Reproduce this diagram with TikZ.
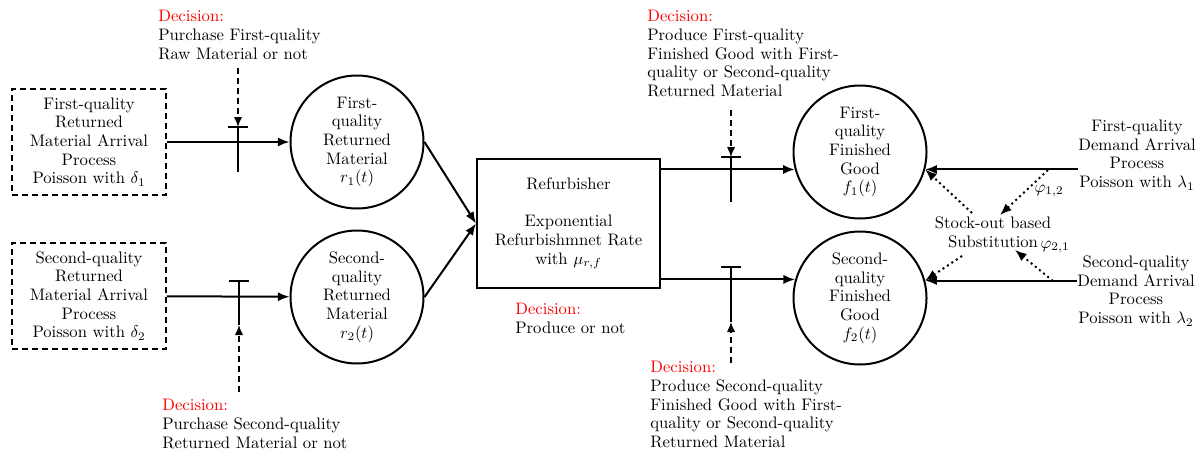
\documentclass[tikz,border=0pt]{standalone}
\usetikzlibrary{arrows.meta,calc}
\begin{document}
\begin{tikzpicture}[x=0.6pt,y=-0.6pt,
  font=\fontsize{10}{11.2}\selectfont,
  circ/.style={circle,draw,line width=1.2pt,minimum size=79.8pt,inner sep=0pt,align=center},
  srcbox/.style={draw,dash pattern=on 3.6pt off 2.4pt,line width=0.9pt,minimum width=92.4pt,minimum height=63.6pt,inner sep=0pt,align=center},
  refbox/.style={draw,line width=1.2pt,minimum width=109.8pt,minimum height=77.4pt,inner sep=0pt,align=center},
  plain/.style={align=center,inner sep=0pt},
  dectext/.style={align=left,anchor=north west,inner sep=0pt},
  flow/.style={line width=1.2pt,-{Latex[length=7pt,width=5.5pt]}},
  barline/.style={line width=1.2pt},
  decarrow/.style={dash pattern=on 3.5pt off 2.5pt,line width=0.9pt,-{Latex[length=6pt,width=5pt]}},
  subarrow/.style={dotted,line width=1.2pt,-{Latex[length=7pt,width=5.5pt]}}
]
\useasboundingbox (0,0) rectangle (1202,452);

% source boxes
\node[srcbox] (B1) at (89,142) {First-quality\\Returned\\Material Arrival\\Process\\Poisson with $\delta_1$};
\node[srcbox] (B2) at (89,296) {Second-quality\\Returned\\Material Arrival\\Process\\Poisson with $\delta_2$};

% raw material circles
\node[circ] (r1) at (357,142) {First-\\quality\\Returned\\Material\\$r_1(t)$};
\node[circ] (r2) at (357,297) {Second-\\quality\\Returned\\Material\\$r_2(t)$};

% refurbisher
\node[refbox] (R) at (568.5,223.5) {Refurbisher\\[11.2pt]Exponential\\Refurbishmnet Rate\\with $\mu_{r,f}$};

% finished goods
\node[circ] (f1) at (860,152) {First-\\quality\\Finished\\Good\\$f_1(t)$};
\node[circ] (f2) at (860,298) {Second-\\quality\\Finished\\Good\\$f_2(t)$};

% demand
\node[plain] (D1) at (1137,155) {First-quality\\Demand Arrival\\Process\\Poisson with $\lambda_1$};
\node[plain] (D2) at (1136,291) {Second-quality\\Demand Arrival\\Process\\Poisson with $\lambda_2$};

% substitution
\node[plain] (S) at (993,232) {Stock-out based\\Substitution};
\node[plain] (phi12) at (1049,191) {$\varphi_{1,2}$};
\node[plain] (phi21) at (1055,247) {$\varphi_{2,1}$};

% decision texts
\node[dectext] (dTL) at (158,10) {\textcolor{red}{Decision:}\\Purchase First-quality\\Raw Material or not};
\node[dectext] (dBL) at (162,399) {\textcolor{red}{Decision:}\\Purchase Second-quality\\Returned Material or not};
\node[dectext] (dM) at (515,303) {\textcolor{red}{Decision:}\\Produce or not};
\node[dectext] (dTR) at (647,10) {\textcolor{red}{Decision:}\\Produce First-quality\\Finished Good with First-\\quality or Second-quality\\Returned Material};
\node[dectext] (dBR) at (650,361) {\textcolor{red}{Decision:}\\Produce Second-quality\\Finished Good with First-\\quality or Second-quality\\Returned Material};

% main flows
\draw[flow] (B1) -- (r1);
\draw[flow] (B2) -- (r2);
\draw[flow] (r1.east) -- (R.west);
\draw[flow] (r2.east) -- (R.west);
\draw[flow] (R.east |- f1.195.7) -- (f1.195.7);
\draw[flow] (R.east |- f2.164.3) -- (f2.164.3);
\draw[flow] (D1.west |- f1.-15.7) -- (f1.-15.7);
\draw[flow] (D2.west |- f2.15.7) -- (f2.15.7);

% decision gates
\coordinate (g1top) at (238,127);
\coordinate (g1bot) at (238,172);
\coordinate (g1src) at (238,68);
\draw[barline] (228,127) -- (248,127);
\draw[barline] (g1top) -- (g1bot);
\draw[decarrow] (g1src) -- (g1top);

\coordinate (g2top) at (239,281);
\coordinate (g2bot) at (239,325);
\coordinate (g2src) at (239,392);
\draw[barline] (229,281) -- (249,281);
\draw[barline] (g2top) -- (g2bot);
\draw[decarrow] (g2src) -- (g2bot);

\coordinate (g3top) at (731,157);
\coordinate (g3bot) at (731,202);
\coordinate (g3src) at (731,110);
\draw[barline] (721,157) -- (741,157);
\draw[barline] (g3top) -- (g3bot);
\draw[decarrow] (g3src) -- (g3top);

\coordinate (g4top) at (731,267);
\coordinate (g4bot) at (731,322);
\coordinate (g4src) at (731,363);
\draw[barline] (721,267) -- (741,267);
\draw[barline] (g4top) -- (g4bot);
\draw[decarrow] (g4src) -- (g4bot);

% substitution arrows
\coordinate (s12a) at (1048,170);
\coordinate (s12b) at (1000,215);
\coordinate (sf1) at (972,213);
\coordinate (sf2) at (962,256);
\coordinate (s21a) at (1053,281);
\coordinate (s21b) at (1015,250);
\draw[subarrow] (s12a) -- (s12b);
\draw[subarrow] (sf1) -- (f1.-15.7);
\draw[subarrow] (sf2) -- (f2.15.7);
\draw[subarrow] (s21a) -- (s21b);
\end{tikzpicture}
\end{document}
